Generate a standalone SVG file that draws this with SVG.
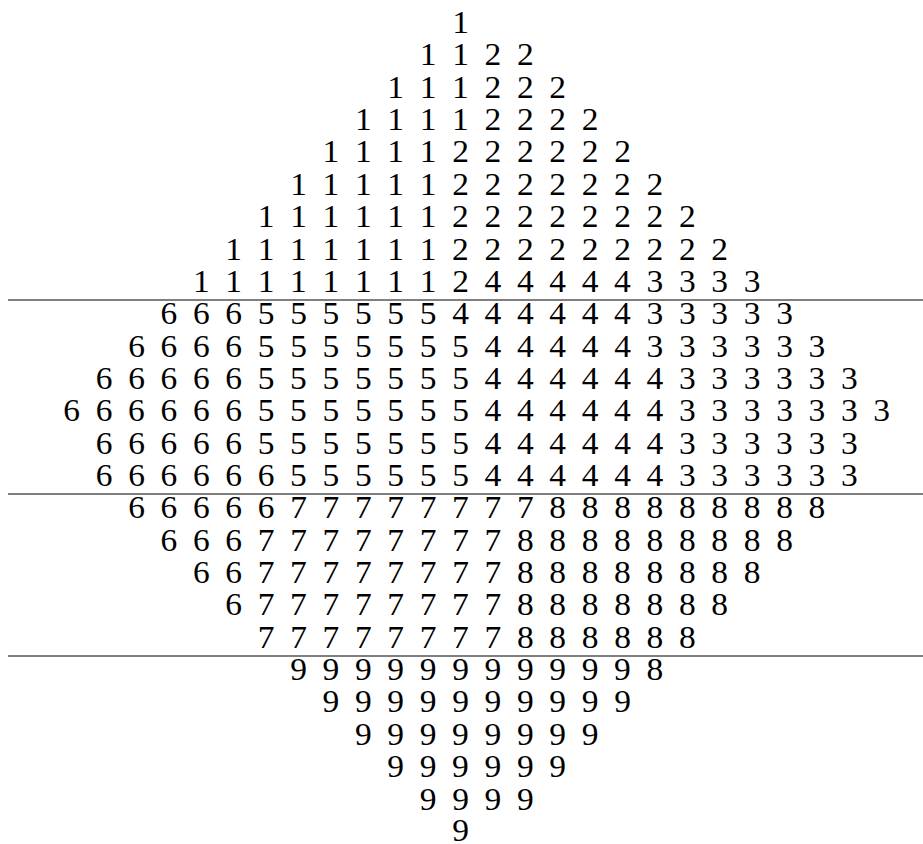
<svg xmlns="http://www.w3.org/2000/svg" width="923" height="844" viewBox="0 0 923 844">
<style>
.rule{stroke:#000;stroke-width:1}
</style>
<rect width="923" height="844" fill="#fff"/>
<g id="rules">
<line class="rule" x1="8" y1="300" x2="923" y2="300"/>
<line class="rule" x1="8" y1="494" x2="923" y2="494"/>
<line class="rule" x1="8" y1="656" x2="923" y2="656"/>
</g>
<g id="rows" font-family="'Liberation Serif', 'Times New Roman', Times, 'DejaVu Serif', serif" font-size="31" fill="#000" text-anchor="middle">
<text transform="translate(460.5 32.8) scale(1.08 1)" x="0">1</text>
<text transform="translate(428.1 65.2) scale(1.08 1)" x="0 15 30 45 60 75 90">1 1 2 2</text>
<text transform="translate(395.7 97.6) scale(1.08 1)" x="0 15 30 45 60 75 90 105 120 135 150">1 1 1 2 2 2</text>
<text transform="translate(363.3 130.0) scale(1.08 1)" x="0 15 30 45 60 75 90 105 120 135 150 165 180 195 210">1 1 1 1 2 2 2 2</text>
<text transform="translate(330.9 162.4) scale(1.08 1)" x="0 15 30 45 60 75 90 105 120 135 150 165 180 195 210 225 240 255 270">1 1 1 1 2 2 2 2 2 2</text>
<text transform="translate(298.5 194.8) scale(1.08 1)" x="0 15 30 45 60 75 90 105 120 135 150 165 180 195 210 225 240 255 270 285 300 315 330">1 1 1 1 1 2 2 2 2 2 2 2</text>
<text transform="translate(266.1 227.2) scale(1.08 1)" x="0 15 30 45 60 75 90 105 120 135 150 165 180 195 210 225 240 255 270 285 300 315 330 345 360 375 390">1 1 1 1 1 1 2 2 2 2 2 2 2 2</text>
<text transform="translate(233.7 259.6) scale(1.08 1)" x="0 15 30 45 60 75 90 105 120 135 150 165 180 195 210 225 240 255 270 285 300 315 330 345 360 375 390 405 420 435 450">1 1 1 1 1 1 1 2 2 2 2 2 2 2 2 2</text>
<text transform="translate(201.3 292.0) scale(1.08 1)" x="0 15 30 45 60 75 90 105 120 135 150 165 180 195 210 225 240 255 270 285 300 315 330 345 360 375 390 405 420 435 450 465 480 495 510">1 1 1 1 1 1 1 1 2 4 4 4 4 4 3 3 3 3</text>
<text transform="translate(168.9 324.4) scale(1.08 1)" x="0 15 30 45 60 75 90 105 120 135 150 165 180 195 210 225 240 255 270 285 300 315 330 345 360 375 390 405 420 435 450 465 480 495 510 525 540 555 570">6 6 6 5 5 5 5 5 5 4 4 4 4 4 4 3 3 3 3 3</text>
<text transform="translate(136.5 356.7) scale(1.08 1)" x="0 15 30 45 60 75 90 105 120 135 150 165 180 195 210 225 240 255 270 285 300 315 330 345 360 375 390 405 420 435 450 465 480 495 510 525 540 555 570 585 600 615 630">6 6 6 6 5 5 5 5 5 5 5 4 4 4 4 4 3 3 3 3 3 3</text>
<text transform="translate(104.1 389.0) scale(1.08 1)" x="0 15 30 45 60 75 90 105 120 135 150 165 180 195 210 225 240 255 270 285 300 315 330 345 360 375 390 405 420 435 450 465 480 495 510 525 540 555 570 585 600 615 630 645 660 675 690">6 6 6 6 6 5 5 5 5 5 5 5 4 4 4 4 4 4 3 3 3 3 3 3</text>
<text transform="translate(71.7 421.4) scale(1.08 1)" x="0 15 30 45 60 75 90 105 120 135 150 165 180 195 210 225 240 255 270 285 300 315 330 345 360 375 390 405 420 435 450 465 480 495 510 525 540 555 570 585 600 615 630 645 660 675 690 705 720 735 750">6 6 6 6 6 6 5 5 5 5 5 5 5 4 4 4 4 4 4 3 3 3 3 3 3 3</text>
<text transform="translate(104.1 453.7) scale(1.08 1)" x="0 15 30 45 60 75 90 105 120 135 150 165 180 195 210 225 240 255 270 285 300 315 330 345 360 375 390 405 420 435 450 465 480 495 510 525 540 555 570 585 600 615 630 645 660 675 690">6 6 6 6 6 5 5 5 5 5 5 5 4 4 4 4 4 4 3 3 3 3 3 3</text>
<text transform="translate(104.1 486.1) scale(1.08 1)" x="0 15 30 45 60 75 90 105 120 135 150 165 180 195 210 225 240 255 270 285 300 315 330 345 360 375 390 405 420 435 450 465 480 495 510 525 540 555 570 585 600 615 630 645 660 675 690">6 6 6 6 6 6 5 5 5 5 5 5 4 4 4 4 4 4 3 3 3 3 3 3</text>
<text transform="translate(136.5 518.4) scale(1.08 1)" x="0 15 30 45 60 75 90 105 120 135 150 165 180 195 210 225 240 255 270 285 300 315 330 345 360 375 390 405 420 435 450 465 480 495 510 525 540 555 570 585 600 615 630">6 6 6 6 6 7 7 7 7 7 7 7 7 8 8 8 8 8 8 8 8 8</text>
<text transform="translate(168.9 550.7) scale(1.08 1)" x="0 15 30 45 60 75 90 105 120 135 150 165 180 195 210 225 240 255 270 285 300 315 330 345 360 375 390 405 420 435 450 465 480 495 510 525 540 555 570">6 6 6 7 7 7 7 7 7 7 7 8 8 8 8 8 8 8 8 8</text>
<text transform="translate(201.3 583.1) scale(1.08 1)" x="0 15 30 45 60 75 90 105 120 135 150 165 180 195 210 225 240 255 270 285 300 315 330 345 360 375 390 405 420 435 450 465 480 495 510">6 6 7 7 7 7 7 7 7 7 8 8 8 8 8 8 8 8</text>
<text transform="translate(233.7 615.4) scale(1.08 1)" x="0 15 30 45 60 75 90 105 120 135 150 165 180 195 210 225 240 255 270 285 300 315 330 345 360 375 390 405 420 435 450">6 7 7 7 7 7 7 7 7 8 8 8 8 8 8 8</text>
<text transform="translate(266.1 647.8) scale(1.08 1)" x="0 15 30 45 60 75 90 105 120 135 150 165 180 195 210 225 240 255 270 285 300 315 330 345 360 375 390">7 7 7 7 7 7 7 7 8 8 8 8 8 8</text>
<text transform="translate(298.5 680.1) scale(1.08 1)" x="0 15 30 45 60 75 90 105 120 135 150 165 180 195 210 225 240 255 270 285 300 315 330">9 9 9 9 9 9 9 9 9 9 9 8</text>
<text transform="translate(330.9 712.4) scale(1.08 1)" x="0 15 30 45 60 75 90 105 120 135 150 165 180 195 210 225 240 255 270">9 9 9 9 9 9 9 9 9 9</text>
<text transform="translate(363.3 744.8) scale(1.08 1)" x="0 15 30 45 60 75 90 105 120 135 150 165 180 195 210">9 9 9 9 9 9 9 9</text>
<text transform="translate(395.7 777.1) scale(1.08 1)" x="0 15 30 45 60 75 90 105 120 135 150">9 9 9 9 9 9</text>
<text transform="translate(428.1 809.5) scale(1.08 1)" x="0 15 30 45 60 75 90">9 9 9 9</text>
<text transform="translate(460.5 840.5) scale(1.08 1)" x="0">9</text>
</g>
</svg>
